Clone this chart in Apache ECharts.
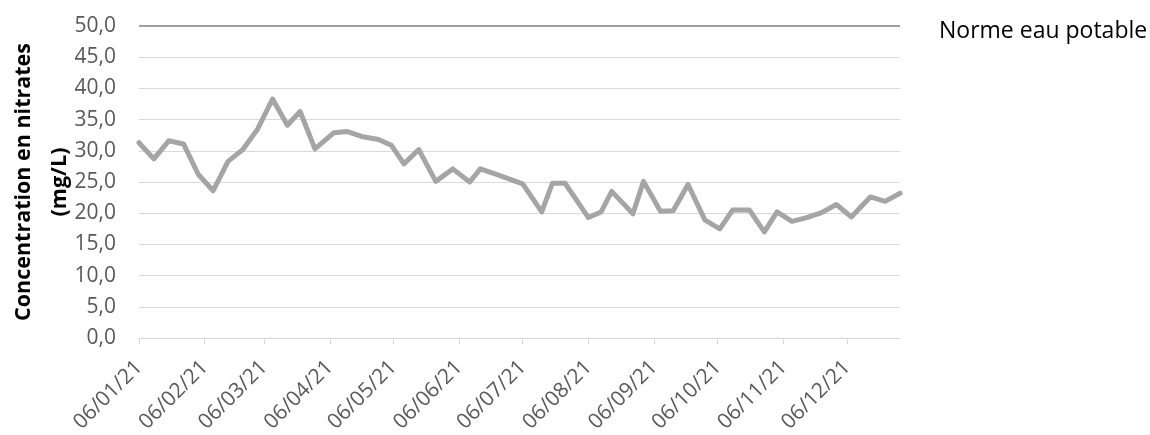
<!DOCTYPE html>
<html>
<head>
<meta charset="utf-8">
<script src="https://cdn.jsdelivr.net/npm/echarts@6/dist/echarts.min.js"></script>
<style>html,body{margin:0;padding:0;background:#fff}#c{width:1150px;height:435px}</style>
</head>
<body>
<div id="c"></div>
<script>
const sampleDates = ['2021-01-06','2021-01-13','2021-01-20','2021-01-27','2021-02-03','2021-02-10','2021-02-17','2021-02-24',
  '2021-03-03','2021-03-10','2021-03-17','2021-03-23','2021-03-30','2021-04-08','2021-04-14','2021-04-21','2021-04-29',
  '2021-05-05','2021-05-11','2021-05-18','2021-05-26','2021-06-03','2021-06-11','2021-06-16','2021-06-23','2021-07-06',
  '2021-07-15','2021-07-20','2021-07-26','2021-08-06','2021-08-12','2021-08-17','2021-08-27','2021-09-01','2021-09-09',
  '2021-09-15','2021-09-22','2021-09-30','2021-10-07','2021-10-13','2021-10-21','2021-10-28','2021-11-03','2021-11-10',
  '2021-11-17','2021-11-24','2021-12-01','2021-12-08','2021-12-17','2021-12-24','2021-12-31'];
const nitrates = [31.3,28.7,31.6,31.1,26.2,23.6,28.3,30.2,
  33.5,38.3,34.1,36.3,30.3,32.9,33.1,32.3,31.8,
  30.9,27.9,30.2,25.1,27.1,25.0,27.1,26.3,24.7,
  20.2,24.8,24.8,19.3,20.2,23.5,19.9,25.1,20.3,
  20.4,24.6,18.9,17.5,20.5,20.5,17.0,20.2,18.7,
  19.3,20.1,21.4,19.4,22.6,21.9,23.2];
const normeValue = 50;
const normeLabel = 'Norme eau potable';
const tickDates = ['2021-01-06','2021-02-06','2021-03-06','2021-04-06','2021-05-06','2021-06-06',
  '2021-07-06','2021-08-06','2021-09-06','2021-10-06','2021-11-06','2021-12-06'];
const yTitle = 'Concentration en nitrates\n(mg/L)';

function ts(s){const p=s.split('-').map(Number);return new Date(p[0],p[1]-1,p[2]).getTime();}
function pad(n){return (n<10?'0':'')+n;}
function fmtDate(v){const d=new Date(v);return pad(d.getDate())+'/'+pad(d.getMonth()+1)+'/'+String(d.getFullYear()).slice(2);}

const xs = sampleDates.map(ts);
const ticks = tickDates.map(ts);
const minX = xs[0], maxX = xs[xs.length-1];
const FONT = 'Open Sans';

const chart = echarts.init(document.getElementById('c'), null, {renderer:'canvas'});
chart.setOption({
  animation:false,
  backgroundColor:'#fff',
  grid:{left:139,right:250,top:26,bottom:97,containLabel:false,outerBoundsMode:'none'},
  xAxis:{
    type:'value', min:minX, max:maxX, scale:true,
    axisLine:{show:true,lineStyle:{color:'#d9d9d9',width:1}},
    axisTick:{show:true,length:6,lineStyle:{color:'#d9d9d9'},customValues:ticks},
    axisLabel:{show:true,rotate:45,margin:26,color:'#595959',fontFamily:FONT,fontSize:21,customValues:ticks,formatter:fmtDate,hideOverlap:false},
    splitLine:{show:false}
  },
  yAxis:{
    type:'value', min:0, max:50, interval:5,
    name:yTitle, nameLocation:'middle', nameGap:61, nameMoveOverlap:false,
    nameTextStyle:{color:'#000',fontFamily:FONT,fontWeight:'bold',fontSize:21.5,lineHeight:36},
    axisLine:{show:false}, axisTick:{show:false},
    axisLabel:{color:'#595959',fontFamily:FONT,fontSize:21,margin:23,formatter:v=>v.toFixed(1).replace('.',',')},
    splitLine:{lineStyle:{color:'#d9d9d9',width:1}}
  },
  series:[
    {type:'line',name:'Nitrates',data:xs.map((x,i)=>[x,nitrates[i]]),showSymbol:false,symbol:'none',
     lineStyle:{color:'#a5a5a5',width:5,join:'round',cap:'round'},z:3},
    {type:'line',name:normeLabel,data:[[minX,normeValue],[maxX,normeValue]],showSymbol:false,symbol:'none',
     lineStyle:{color:'#a0a0a0',width:1.8},z:2,
     endLabel:{show:true,formatter:normeLabel,color:'#000',fontFamily:FONT,fontSize:23,distance:39,offset:[0,5]}}
  ]
});
</script>
</body>
</html>
